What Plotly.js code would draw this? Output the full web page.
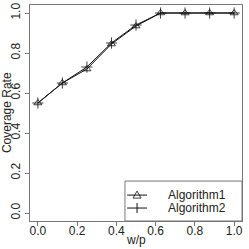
<!DOCTYPE html>
<html>
<head>
<meta charset="utf-8">
<script src="https://cdn.plot.ly/plotly-3.0.1.min.js"></script>
<style>html,body{margin:0;padding:0;background:#fff;}#chart{width:249px;height:249px;}</style>
</head>
<body>
<div id="chart"></div>
<script>
var wp = [0, 0.125, 0.25, 0.375, 0.5, 0.625, 0.75, 0.875, 1.0];
var algorithm1 = [0.55, 0.65, 0.72, 0.845, 0.935, 1.0, 1.0, 1.0, 1.0];
var algorithm2 = [0.55, 0.65, 0.73, 0.85, 0.94, 1.0, 1.0, 1.0, 1.0];
var seriesNames = ["Algorithm1", "Algorithm2"];
var tickVals = [0, 0.2, 0.4, 0.6, 0.8, 1.0];
var tickText = ["0.0", "0.2", "0.4", "0.6", "0.8", "1.0"];
var xTitle = "w/p";
var yTitle = "Coverage Rate";

var font = {family: "Liberation Sans, Arial, Helvetica, sans-serif", size: 12, color: "#222"};
var lineCol = "#111";
var boxCol = "#777";

var traces = [
  {x: wp, y: algorithm1, name: seriesNames[0], type: "scatter", mode: "lines+markers",
   line: {color: lineCol, width: 1},
   marker: {symbol: "triangle-up-open", size: 7, color: lineCol, line: {width: 0.8, color: lineCol}}},
  {x: wp, y: algorithm2, name: seriesNames[1], type: "scatter", mode: "lines+markers",
   line: {color: lineCol, width: 1},
   marker: {symbol: "cross-thin-open", size: 8, color: lineCol, line: {width: 0.8, color: lineCol}}}
];

var axisCommon = {
  range: [-0.04, 1.04], showgrid: false, zeroline: false,
  showline: true, mirror: true, linecolor: boxCol, linewidth: 1,
  ticks: "outside", ticklen: 4, tickcolor: boxCol, tickwidth: 1,
  tickvals: tickVals, ticktext: tickText, tickfont: font, automargin: false
};

// legend drawn with shapes/annotations (R-style compact legend)
var lgX0 = 0.448, lgY1 = 0.185;
var symX = 0.505;            // center of legend sample, paper
var rowY = [0.120, 0.060];   // row centers, paper
var textX = 0.640;

var shapes = [
  {type: "rect", xref: "paper", yref: "paper", x0: lgX0, x1: 1, y0: 0, y1: lgY1,
   line: {color: boxCol, width: 1}, fillcolor: "#fff", layer: "above"}
];
rowY.forEach(function (ry) {
  shapes.push({type: "line", xref: "paper", yref: "paper", x0: symX - 0.047, x1: symX + 0.047, y0: ry, y1: ry,
               line: {color: lineCol, width: 1}, layer: "above"});
});
shapes.push({type: "path", xref: "paper", yref: "paper", xsizemode: "pixel", ysizemode: "pixel",
             xanchor: symX, yanchor: rowY[0], path: "M0,4 L-4,-3 L4,-3 Z",
             line: {color: lineCol, width: 0.8}, fillcolor: "rgba(0,0,0,0)", layer: "above"});
shapes.push({type: "path", xref: "paper", yref: "paper", xsizemode: "pixel", ysizemode: "pixel",
             xanchor: symX, yanchor: rowY[1], path: "M0,-5 L0,5",
             line: {color: lineCol, width: 1}, layer: "above"});

var annotations = seriesNames.map(function (n, i) {
  return {text: n, xref: "paper", yref: "paper", x: textX, y: rowY[i], xanchor: "left", yanchor: "middle",
          showarrow: false, font: font};
});
annotations.push({text: yTitle, xref: "paper", yref: "paper", x: -0.108, y: 0.5, textangle: -90,
                  xanchor: "center", yanchor: "middle", showarrow: false, font: font});
annotations.push({text: xTitle, xref: "paper", yref: "paper", x: 0.5, y: -0.088,
                  xanchor: "center", yanchor: "middle", showarrow: false, font: font});

var layout = {
  width: 249, height: 249,
  margin: {l: 30, r: 7, t: 5, b: 28},
  paper_bgcolor: "#fff", plot_bgcolor: "#fff",
  font: font,
  showlegend: false,
  xaxis: Object.assign({}, axisCommon, {ticklabelstandoff: -5}),
  yaxis: Object.assign({}, axisCommon, {tickangle: -90}),
  shapes: shapes,
  annotations: annotations
};

Plotly.newPlot("chart", traces, layout, {displayModeBar: false, staticPlot: true});
</script>
</body>
</html>
